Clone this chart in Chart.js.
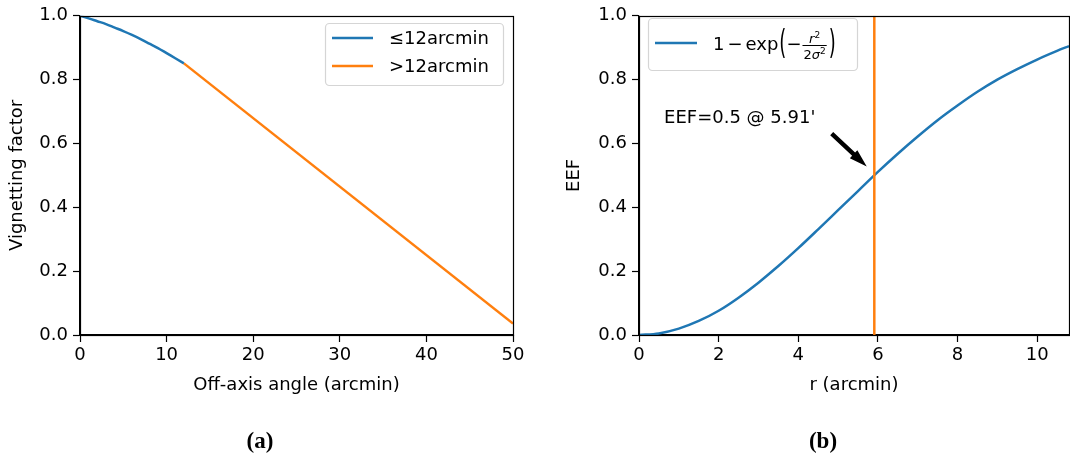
<!DOCTYPE html>
<html>
<head>
<meta charset="utf-8">
<title>Vignetting and EEF</title>
<style>
html, body {
  margin:0px;
  background:#fff;
}
#wrap { position:relative; width:1070px; height:459px; }
canvas { position:absolute; top:0px; }
.cap { position:absolute; top:428px; width:100px; line-height:30px; text-align:center; font:bold 23px "Liberation Serif", serif; color:#000; }
</style>
<script src="https://cdn.jsdelivr.net/npm/chart.js@4.4.1/dist/chart.umd.min.js"></script>
</head>
<body>
<div id="wrap">
<canvas id="chartA" width="535" height="459" style="left:0px"></canvas>
<canvas id="chartB" width="535" height="459" style="left:535px"></canvas>
<div class="cap" style="left:210px">(a)</div>
<div class="cap" style="left:773px">(b)</div>
</div>
<script>
// (a) vignetting factor vs off-axis angle
const angleInner = [0, 1, 2, 3, 4, 5, 6, 7, 8, 9, 10, 11, 12];
const vignInner = [1.000, 0.992, 0.983, 0.974, 0.963, 0.952, 0.940, 0.927, 0.913, 0.899, 0.883, 0.867, 0.851];
const angleOuter = [12, 50];
const vignOuter = [0.851, 0.036];
const labelInner = "≤12arcmin";
const labelOuter = ">12arcmin";
const xTicksA = [0, 10, 20, 30, 40, 50];
const yTicks = [0, 0.2, 0.4, 0.6, 0.8, 1.0];

// (b) encircled energy fraction vs radius
const radius = [0, 0.5, 1, 1.5, 2, 2.5, 3, 3.5, 4, 4.5, 5, 5.5, 6, 6.5, 7, 7.5, 8, 8.5, 9, 9.5, 10, 10.5, 10.8];
const eef = [0, 0.005, 0.020, 0.044, 0.076, 0.117, 0.164, 0.216, 0.272, 0.331, 0.391, 0.451, 0.511, 0.568, 0.622, 0.673, 0.719, 0.762, 0.800, 0.833, 0.863, 0.890, 0.905];
const halfRadius = 5.91;
const halfLabel = "EEF=0.5 @ 5.91'";
const xTicksB = [0, 2, 4, 6, 8, 10];

const BLUE = '#1f77b4';
const ORANGE = '#ff7f0e';
const FONT = "'DejaVu Sans'";

Chart.defaults.font.family = FONT;
Chart.defaults.font.size = 18;
Chart.defaults.color = '#000';

function pts(xs, ys) {
  return xs.map(function(x, i) { return {x: x, y: ys[i]}; });
}

// black box round the plot area, like matplotlib spines
const frame = {
  id: 'frame',
  afterDatasetsDraw(chart) {
    const a = chart.chartArea, ctx = chart.ctx;
    ctx.save();
    ctx.strokeStyle = '#000';
    ctx.lineWidth = 1.2;
    ctx.strokeRect(Math.round(a.left) + 0.5, Math.round(a.top) + 0.5, Math.round(a.right - a.left), Math.round(a.bottom - a.top));
    ctx.restore();
  }
};

function legendBox(ctx, x, y, w, h) {
  ctx.beginPath();
  ctx.roundRect(x + 0.5, y + 0.5, w, h, 4);
  ctx.fillStyle = 'rgba(255,255,255,0.8)';
  ctx.fill();
  ctx.strokeStyle = '#d5d5d5';
  ctx.lineWidth = 1.2;
  ctx.stroke();
}

function legendLine(ctx, x0, x1, y, color) {
  ctx.beginPath();
  ctx.moveTo(x0, y);
  ctx.lineTo(x1, y);
  ctx.strokeStyle = color;
  ctx.lineWidth = 2.5;
  ctx.stroke();
}

const legendA = {
  id: 'legendA',
  afterDraw(chart) {
    const ctx = chart.ctx;
    ctx.save();
    legendBox(ctx, 325, 23, 178, 62);
    const ds = chart.data.datasets;
    [38, 66].forEach(function(y, i) {
      legendLine(ctx, 332, 373, y, ds[i].borderColor);
      ctx.fillStyle = '#000';
      ctx.font = '18px ' + FONT;
      ctx.textBaseline = 'middle';
      ctx.fillText(ds[i].label, 389, y + 1);
    });
    ctx.restore();
  }
};

// 1 - exp(-r^2 / (2 sigma^2)) drawn as mathtext-like label
function drawEEFLabel(ctx, x, y) {
  const base = y + 7;
  ctx.fillStyle = '#000';
  ctx.textBaseline = 'alphabetic';
  ctx.font = '18px ' + FONT;
  ctx.fillText('1', x, base);
  x += ctx.measureText('1').width + 3;
  ctx.fillText('−', x, base);
  x += ctx.measureText('−').width + 3;
  ctx.fillText('exp', x, base);
  x += ctx.measureText('exp').width + 1;
  // tall left paren
  ctx.save();
  ctx.translate(x, y + 2);
  ctx.scale(1, 1.85);
  ctx.textBaseline = 'middle';
  ctx.fillText('(', 0, 0);
  const pw = ctx.measureText('(').width;
  ctx.restore();
  x += pw;
  ctx.fillText('−', x, base);
  x += ctx.measureText('−').width + 1;
  // fraction
  ctx.font = 'italic 13px ' + FONT;
  const rW = ctx.measureText('r').width;
  ctx.font = '13px ' + FONT;
  const twoW = ctx.measureText('2').width;
  ctx.font = 'italic 13px ' + FONT;
  const sW = ctx.measureText('σ').width;
  ctx.font = '9px ' + FONT;
  const supW = ctx.measureText('2').width;
  const numW = rW + supW;
  const denW = twoW + sW + supW;
  const fw = Math.max(numW, denW) + 2;
  const barY = y + 2.5;
  ctx.fillRect(x, barY - 0.5, fw, 1);
  let nx = x + (fw - numW) / 2;
  ctx.font = 'italic 13px ' + FONT;
  ctx.fillText('r', nx, barY - 3);
  ctx.font = '9px ' + FONT;
  ctx.fillText('2', nx + rW, barY - 8);
  let dx = x + (fw - denW) / 2;
  ctx.font = '13px ' + FONT;
  ctx.fillText('2', dx, barY + 13);
  ctx.font = 'italic 13px ' + FONT;
  ctx.fillText('σ', dx + twoW, barY + 13);
  ctx.font = '9px ' + FONT;
  ctx.fillText('2', dx + twoW + sW, barY + 8);
  x += fw + 2;
  ctx.font = '18px ' + FONT;
  ctx.save();
  ctx.translate(x, y + 2);
  ctx.scale(1, 1.85);
  ctx.textBaseline = 'middle';
  ctx.fillText(')', 0, 0);
  ctx.restore();
}

const legendB = {
  id: 'legendB',
  afterDraw(chart) {
    const ctx = chart.ctx;
    ctx.save();
    legendBox(ctx, 113, 18, 209, 52);
    legendLine(ctx, 120, 162, 43, BLUE);
    drawEEFLabel(ctx, 178, 43);
    ctx.restore();
  }
};

// arrow + text pointing at the half-energy radius
const annotB = {
  id: 'annotB',
  afterDraw(chart) {
    const ctx = chart.ctx, sx = chart.scales.x, sy = chart.scales.y;
    ctx.save();
    ctx.fillStyle = '#000';
    ctx.font = '18px ' + FONT;
    ctx.textBaseline = 'middle';
    ctx.fillText(halfLabel, sx.getPixelForValue(0.63), sy.getPixelForValue(0.68));
    const x0 = sx.getPixelForValue(4.84), y0 = sy.getPixelForValue(0.631);
    const x1 = sx.getPixelForValue(5.72), y1 = sy.getPixelForValue(0.528);
    const ang = Math.atan2(y1 - y0, x1 - x0);
    const len = Math.hypot(x1 - x0, y1 - y0);
    ctx.translate(x0, y0);
    ctx.rotate(ang);
    const hl = 18, hw = 5.5, sw = 2.2;
    ctx.beginPath();
    ctx.moveTo(0, -sw);
    ctx.lineTo(len - hl, -sw);
    ctx.lineTo(len - hl, -hw);
    ctx.lineTo(len, 0);
    ctx.lineTo(len - hl, hw);
    ctx.lineTo(len - hl, sw);
    ctx.lineTo(0, sw);
    ctx.closePath();
    ctx.fill();
    ctx.restore();
  }
};

function axis(min, max, ticks, fmt, titleText, titlePad, isY) {
  return {
    type: 'linear',
    min: min,
    max: max,
    afterBuildTicks: function(scale) {
      scale.ticks = ticks.map(function(v) { return {value: v}; });
    },
    ticks: {
      callback: fmt,
      padding: isY ? 5 : 3,
      font: {size: 18},
      maxRotation: 0,
      autoSkip: false
    },
    grid: {
      display: true,
      drawOnChartArea: false,
      drawTicks: true,
      tickLength: 7,
      tickColor: '#000',
      tickWidth: 1.2
    },
    border: {display: true, color: '#000', width: 1.2},
    title: {
      display: true,
      text: titleText,
      font: {size: 18},
      padding: titlePad
    }
  };
}

const commonOpts = {
  responsive: false,
  animation: false,
  devicePixelRatio: 1,
  plugins: {legend: {display: false}, tooltip: {enabled: false}}
};

const chartA = new Chart(document.getElementById('chartA'), {
  type: 'scatter',
  data: {
    datasets: [{
      label: labelInner,
      data: pts(angleInner, vignInner),
      showLine: true,
      borderColor: BLUE,
      borderWidth: 2.5,
      pointRadius: 0,
      cubicInterpolationMode: 'monotone'
    }, {
      label: labelOuter,
      data: pts(angleOuter, vignOuter),
      showLine: true,
      borderColor: ORANGE,
      borderWidth: 2.5,
      pointRadius: 0
    }]
  },
  options: Object.assign({}, commonOpts, {
    layout: {padding: {top: 13, right: 22, left: 0, bottom: 0}},
    scales: {
      x: Object.assign(axis(0, 50, xTicksA, function(v) { return String(v); }, 'Off-axis angle (arcmin)', {top: 0, bottom: 63}, false), {
        afterFit: function(s) { s.height = 124; }
      }),
      y: Object.assign(axis(0, 1, yTicks, function(v) { return v.toFixed(1); }, 'Vignetting factor', {top: 7, bottom: 0}, true), {
        afterFit: function(s) { s.width = 80; }
      })
    }
  }),
  plugins: [frame, legendA]
});

const chartB = new Chart(document.getElementById('chartB'), {
  type: 'scatter',
  data: {
    datasets: [{
      label: '1 − exp(−r²/(2σ²))',
      data: pts(radius, eef),
      showLine: true,
      borderColor: BLUE,
      borderWidth: 2.5,
      pointRadius: 0,
      cubicInterpolationMode: 'monotone',
      order: 1
    }, {
      label: 'r50',
      data: pts([halfRadius, halfRadius], [0, 1]),
      showLine: true,
      borderColor: ORANGE,
      borderWidth: 2.5,
      pointRadius: 0,
      order: 0
    }]
  },
  options: Object.assign({}, commonOpts, {
    layout: {padding: {top: 13, right: 1, left: 0, bottom: 0}},
    scales: {
      x: Object.assign(axis(0, 10.8, xTicksB, function(v) { return String(v); }, 'r (arcmin)', {top: 0, bottom: 63}, false), {
        afterFit: function(s) { s.height = 124; }
      }),
      y: Object.assign(axis(0, 1, yTicks, function(v) { return v.toFixed(1); }, 'EEF', {top: 29, bottom: 0}, true), {
        afterFit: function(s) { s.width = 104; }
      })
    }
  }),
  plugins: [frame, legendB, annotB]
});
</script>
</body>
</html>
